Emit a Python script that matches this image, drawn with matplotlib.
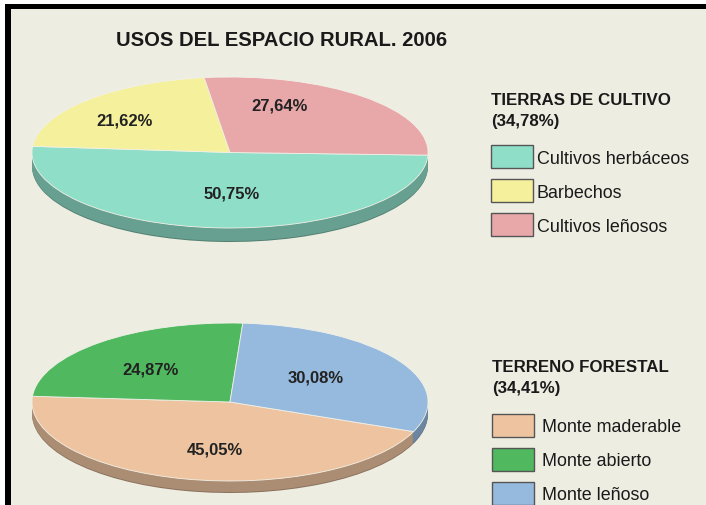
import matplotlib.pyplot as plt
from matplotlib.patches import Rectangle
from matplotlib.colors import to_rgb

# ---- data ----
title = 'USOS DEL ESPACIO RURAL. 2006'

cultivo_title = 'TIERRAS DE CULTIVO'
cultivo_total = '(34,78%)'
cultivo_labels = ['Cultivos herbáceos', 'Barbechos', 'Cultivos leñosos']
cultivo_values = [50.75, 21.62, 27.64]
cultivo_colors = ['#8fdec8', '#f5f09b', '#e8a8aa']

forestal_title = 'TERRENO FORESTAL'
forestal_total = '(34,41%)'
forestal_labels = ['Monte maderable', 'Monte abierto', 'Monte leñoso']
forestal_values = [45.05, 24.87, 30.08]
forestal_colors = ['#eec4a0', '#50b95f', '#96b9de']

# ---- layout ----
W, H = 706, 506
BG = '#eeede2'
SANS = ['Liberation Sans', 'DejaVu Sans']
INK = '#1a1a1a'

fig = plt.figure(figsize=(W / 100, H / 100), dpi=100)
fig.patch.set_facecolor('white')

# full-figure axes in pixel units for frame, title and legends
base = fig.add_axes([0, 0, 1, 1])
base.set_xlim(0, W)
base.set_ylim(H, 0)
base.axis('off')
base.add_patch(Rectangle((5, 5), W, H, facecolor='black', lw=0))
base.add_patch(Rectangle((11, 10), W, H, facecolor=BG, lw=0))


def darker(c, f):
    return tuple(v * f for v in to_rgb(c))


def pct(v):
    return f'{v:.2f}%'.replace('.', ',')


def pie3d(cx, cy, a, b, depth, values, colors, start, label_xy):
    '''flat 3d-looking pie: ellipse bbox (pixels) -> axes, data -1..1'''
    ax = fig.add_axes([(cx - a) / W, (H - cy - b) / H, 2 * a / W, 2 * b / H])
    step = 1.0 / b  # one pixel in data units
    for k in range(depth, 0, -1):
        f = 0.58 if k == depth else 0.72
        wedges, _ = ax.pie(values, colors=[darker(c, f) for c in colors],
                           startangle=start, counterclock=False,
                           center=(0, -k * step), wedgeprops=dict(lw=0))
        for w in wedges:
            w.set_clip_on(False)
    wedges, _ = ax.pie(values, colors=colors, startangle=start, counterclock=False,
                       wedgeprops=dict(lw=0.6, edgecolor='#f2f1e8'))
    for w in wedges:
        w.set_clip_on(False)
    ax.set_aspect('auto')
    ax.set_xlim(-1, 1)
    ax.set_ylim(-1, 1)
    ax.axis('off')
    for v, (x, y) in zip(values, label_xy):
        ax.text(x, y, pct(v), ha='center', va='center', fontsize=12,
                fontweight='bold', family=SANS, color='#222222')


def legend(x0, y_title, head, total, labels, colors, y_patch, x_text):
    base.text(x0, y_title, head, fontsize=12.2, fontweight='bold', family=SANS,
              va='baseline', color=INK)
    base.text(x0, y_title + 21, total, fontsize=12.2, fontweight='bold', family=SANS,
              va='baseline', color=INK)
    for i, (lab, c) in enumerate(zip(labels, colors)):
        yc = y_patch + 34 * i
        base.add_patch(Rectangle((x0, yc - 11.5), 42, 23, facecolor=c,
                                 edgecolor='#555555', lw=1))
        base.text(x_text, yc + 6, lab, fontsize=12.9, family=SANS,
                  va='baseline', color=INK)


base.text(116, 46, title, fontsize=14.6, fontweight='bold', family=SANS,
          va='baseline', color=INK)

pie3d(230, 153.5, 198, 75.5, 14, cultivo_values, cultivo_colors, -2,
      [(0.008, -0.536), (-0.53, 0.43), (0.2525, 0.623)])
pie3d(230, 403, 198, 79, 12, forestal_values, forestal_colors, -22,
      [(-0.076, -0.589), (-0.399, 0.418), (0.434, 0.316)])

legend(491, 105, cultivo_title, cultivo_total, cultivo_labels, cultivo_colors, 157.5, 537)
legend(492, 372, forestal_title, forestal_total, forestal_labels, forestal_colors, 426, 542)

fig.savefig('out.png', dpi=100)
